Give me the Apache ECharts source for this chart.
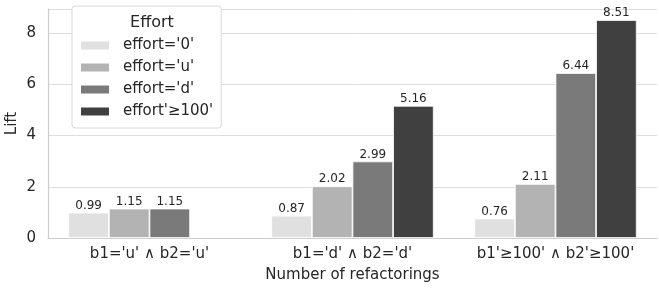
<!DOCTYPE html>
<html>
<head>
<meta charset="utf-8">
<script src="https://cdn.jsdelivr.net/npm/echarts@6/dist/echarts.min.js"></script>
<style>
  html, body { margin: 0; padding: 0; background: #fff; }
  #chart { width: 659px; height: 289px; }
</style>
</head>
<body>
<div id="chart"></div>
<script>
// categories and values
var categories = ["b1='u' ∧ b2='u'", "b1='d' ∧ b2='d'", "b1'≥100' ∧ b2'≥100'"];
var seriesNames = ["effort='0'", "effort='u'", "effort='d'", "effort'≥100'"];
var effort0 = [0.99, 0.87, 0.76];
var effortU = [1.15, 2.02, 2.11];
var effortD = [1.15, 2.99, 6.44];
var effort100 = [null, 5.16, 8.51];
var yTicks = [0, 2, 4, 6, 8];
var colors = ['#e0e0e0', '#b3b3b3', '#7a7a7a', '#404040'];

var font = 'DejaVu Sans';
var chart = echarts.init(document.getElementById('chart'));

function makeSeries(name, values, color) {
	return {
		name: name,
		type: 'bar',
		data: values,
		barGap: '0%',
		barCategoryGap: '20%',
		itemStyle: { color: color, borderColor: '#fff', borderWidth: 0.8 },
		label: {
			show: true,
			position: 'top',
			distance: 1,
			fontFamily: font,
			fontSize: 12,
			color: '#262626',
			formatter: function (p) { return p.value.toFixed(2); }
		}
	};
}

chart.setOption({
	animation: false,
	backgroundColor: '#fff',
	title: {
		text: 'Effort',
		left: 147,
		top: 10,
		textAlign: 'center',
		textStyle: { fontFamily: font, fontSize: 16, fontWeight: 'normal', color: '#262626' }
	},
	legend: {
		data: seriesNames,
		orient: 'vertical',
		left: 72,
		top: 6,
		padding: [32, 8, 9, 7],
		itemWidth: 30,
		itemHeight: 10,
		itemGap: 7,
		icon: 'rect',
		backgroundColor: '#fff',
		borderColor: '#d8d8d8',
		borderWidth: 1,
		borderRadius: 3,
		textStyle: { fontFamily: font, fontSize: 15, color: '#262626', padding: [0, 0, 0, 8] }
	},
	grid: { left: 48, right: 2, top: 9, bottom: 51, outerBoundsMode: 'none' },
	xAxis: {
		type: 'category',
		data: categories,
		name: 'Number of refactorings',
		nameLocation: 'middle',
		nameGap: 30,
		nameMoveOverlap: false,
		nameTextStyle: { fontFamily: font, fontSize: 15, color: '#262626' },
		axisLine: { lineStyle: { color: '#cccccc', width: 1.2 } },
		axisTick: { show: false },
		axisLabel: { interval: 0, fontFamily: font, fontSize: 15, color: '#262626', margin: 9 }
	},
	yAxis: {
		type: 'value',
		min: 0,
		max: 8.94,
		interval: 2,
		name: 'Lift',
		nameLocation: 'middle',
		nameGap: 28,
		nameMoveOverlap: false,
		nameTextStyle: { fontFamily: font, fontSize: 15, color: '#262626' },
		axisLine: { show: true, lineStyle: { color: '#cccccc', width: 1.2 } },
		axisTick: { show: false },
		splitLine: { lineStyle: { color: '#dddddd', width: 1 } },
		axisLabel: {
			fontFamily: font, fontSize: 15, color: '#262626', margin: 12,
			showMaxLabel: false,
			formatter: function (v) { return yTicks.indexOf(v) >= 0 ? String(v) : ''; }
		}
	},
	series: [
		makeSeries(seriesNames[0], effort0, colors[0]),
		makeSeries(seriesNames[1], effortU, colors[1]),
		makeSeries(seriesNames[2], effortD, colors[2]),
		makeSeries(seriesNames[3], effort100, colors[3])
	]
});
</script>
</body>
</html>
